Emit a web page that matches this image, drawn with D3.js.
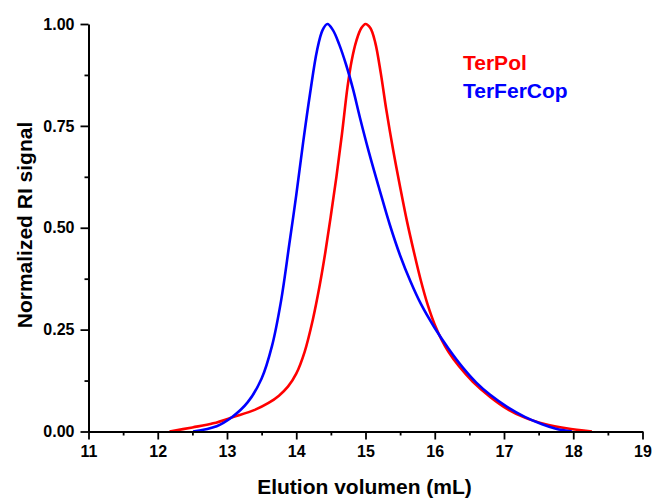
<!DOCTYPE html>
<html>
<head>
<meta charset="utf-8">
<script src="https://cdn.jsdelivr.net/npm/d3@7"></script>
<style>
  html, body { margin: 0; padding: 0; background: #fff; }
  svg { display: block; }
  text { font-family: "Liberation Sans", Arial, sans-serif; font-weight: bold; }
</style>
</head>
<body>
<svg id="chart" width="652" height="499"></svg>
<script>
// ---- data ----
const terPolX = [12.17, 12.5, 12.8, 13.1, 13.4, 13.6, 13.75, 13.88, 14.0, 14.12, 14.24, 14.34, 14.42, 14.5, 14.58, 14.66, 14.74, 14.8, 14.87, 14.94, 15.0, 15.07, 15.14, 15.22, 15.3, 15.4, 15.5, 15.6, 15.7, 15.8, 15.9, 16.0, 16.1, 16.2, 16.35, 16.55, 16.8, 17.05, 17.3, 17.6, 17.9, 18.27];
const terPolY = [0, 0.01, 0.02, 0.036, 0.053, 0.07, 0.088, 0.11, 0.142, 0.195, 0.275, 0.36, 0.44, 0.53, 0.625, 0.73, 0.845, 0.91, 0.96, 0.99, 1.0, 0.99, 0.955, 0.88, 0.79, 0.69, 0.6, 0.515, 0.44, 0.37, 0.31, 0.262, 0.225, 0.195, 0.16, 0.122, 0.085, 0.055, 0.034, 0.018, 0.008, 0];
const terFerCopX = [12.51, 12.85, 13.07, 13.3, 13.5, 13.65, 13.78, 13.9, 14.0, 14.1, 14.2, 14.3, 14.38, 14.45, 14.53, 14.62, 14.72, 14.82, 14.92, 15.05, 15.2, 15.35, 15.5, 15.65, 15.8, 16.0, 16.2, 16.4, 16.6, 16.8, 17.05, 17.3, 17.55, 17.75, 17.98];
const terFerCopY = [0, 0.013, 0.035, 0.072, 0.13, 0.21, 0.32, 0.46, 0.58, 0.71, 0.83, 0.935, 0.985, 1.0, 0.985, 0.95, 0.9, 0.84, 0.77, 0.685, 0.595, 0.508, 0.432, 0.368, 0.313, 0.254, 0.203, 0.158, 0.12, 0.09, 0.06, 0.036, 0.018, 0.007, 0];
const seriesNames = ["TerPol", "TerFerCop"];
const seriesColors = ["#ff0000", "#0000ff"];
const xTicks = [11, 12, 13, 14, 15, 16, 17, 18, 19];
const xMinorTicks = [11.5, 12.5, 13.5, 14.5, 15.5, 16.5, 17.5, 18.5];
const yTicks = [0, 0.25, 0.5, 0.75, 1.0];
const yMinorTicks = [0.125, 0.375, 0.625, 0.875];
const xTitle = "Elution volumen (mL)";
const yTitle = "Normalized RI signal";

// ---- chart ----
const svg = d3.select("#chart");
const x = d3.scaleLinear().domain([11, 19]).range([88.5, 642.5]);
const y = d3.scaleLinear().domain([0, 1]).range([431.5, 24]);

const series = [
  { name: seriesNames[0], color: seriesColors[0], pts: terPolX.map((v, i) => [v, terPolY[i]]) },
  { name: seriesNames[1], color: seriesColors[1], pts: terFerCopX.map((v, i) => [v, terFerCopY[i]]) }
];

const line = d3.line().x(d => x(d[0])).y(d => y(d[1])).curve(d3.curveCatmullRom.alpha(0.5));

svg.append("g").selectAll("path").data(series).join("path")
  .attr("d", d => line(d.pts))
  .attr("fill", "none")
  .attr("stroke", d => d.color)
  .attr("stroke-width", 2.6)
  .attr("stroke-linejoin", "round");

// minor ticks
const xMinor = svg.append("g").attr("transform", `translate(0,${y(0)})`)
  .call(d3.axisBottom(x).tickValues(xMinorTicks).tickSize(4).tickSizeOuter(0).tickFormat(""));
const yMinor = svg.append("g").attr("transform", `translate(${x(11)},0)`)
  .call(d3.axisLeft(y).tickValues(yMinorTicks).tickSize(4).tickSizeOuter(0).tickFormat(""));
[xMinor, yMinor].forEach(g => {
  g.select(".domain").remove();
  g.selectAll("line").attr("stroke", "#000").attr("stroke-width", 1.8);
});

// major axes
const xAxis = svg.append("g").attr("transform", `translate(0,${y(0)})`)
  .call(d3.axisBottom(x).tickValues(xTicks).tickSize(8).tickSizeOuter(0).tickPadding(6).tickFormat(d3.format("d")));
const yAxis = svg.append("g").attr("transform", `translate(${x(11)},0)`)
  .call(d3.axisLeft(y).tickValues(yTicks).tickSize(8).tickSizeOuter(0).tickPadding(6).tickFormat(d3.format(".2f")));
[xAxis, yAxis].forEach(g => {
  g.select(".domain").attr("stroke", "#000").attr("stroke-width", 2);
  g.selectAll(".tick line").attr("stroke", "#000").attr("stroke-width", 1.8);
  g.selectAll(".tick text").attr("fill", "#000").style("font-size", "16px")
    .style("font-family", "'Liberation Sans', Arial, sans-serif").style("font-weight", "bold");
});

// axis titles
svg.append("text")
  .attr("x", 364.5).attr("y", 494)
  .attr("text-anchor", "middle")
  .style("font-size", "21px")
  .text(xTitle);
svg.append("text")
  .attr("transform", "translate(32,225) rotate(-90)")
  .attr("text-anchor", "middle")
  .style("font-size", "21px")
  .text(yTitle);

// legend
svg.append("g").selectAll("text").data(series).join("text")
  .attr("x", 463)
  .attr("y", (d, i) => 70 + i * 28)
  .attr("fill", d => d.color)
  .style("font-size", "21px")
  .text(d => d.name);
</script>
</body>
</html>
